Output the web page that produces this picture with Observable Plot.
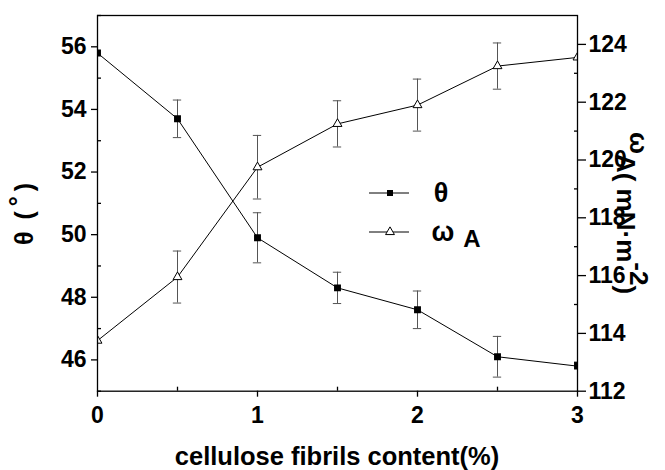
<!DOCTYPE html>
<html><head><meta charset="utf-8">
<script src="https://cdn.jsdelivr.net/npm/d3@7"></script>
<script src="https://cdn.jsdelivr.net/npm/@observablehq/plot@0.6"></script>
<style>body{margin:0;background:#fff} svg{font-family:"Liberation Sans",Arial,sans-serif}</style>
</head><body><div id="chart"></div>
<script>
// ---- data ----
const content = [0, 0.5, 1, 1.5, 2, 2.5, 3];
const theta = [55.8, 53.7, 49.9, 48.3, 47.6, 46.1, 45.8];
const thetaErr = [0, 0.6, 0.8, 0.5, 0.6, 0.65, 0];
const omegaA = [113.75, 115.95, 119.75, 121.25, 121.9, 123.25, 123.55];
const omegaErr = [0, 0.9, 1.1, 0.8, 0.9, 0.8, 0];
const xTicks = [0, 1, 2, 3];
const xMinor = [0.5, 1.5, 2.5];
const leftTicks = [46, 48, 50, 52, 54, 56];
const leftMinor = [45, 47, 49, 51, 53, 55, 57];
const rightTicks = [112, 114, 116, 118, 120, 122, 124];
const rightMinor = [113, 115, 117, 119, 121, 123];
const leftDomain = [45, 57];
const rightDomain = [112, 125];

// map right-axis values into left-axis scale space
const k = (leftDomain[1] - leftDomain[0]) / (rightDomain[1] - rightDomain[0]);
const toLeft = v => leftDomain[0] + (v - rightDomain[0]) * k;
const fromLeft = v => rightDomain[0] + (v - leftDomain[0]) / k;

const thetaData = content.map((x, i) => ({x, y: theta[i], e: thetaErr[i]}));
const omegaData = content.map((x, i) => ({x, y: toLeft(omegaA[i]), e: omegaErr[i] * k}));
const cap = 0.026;
const errMarks = (data) => {
  const d = data.filter(p => p.e > 0);
  return [
    Plot.ruleX(d, {x: "x", y1: p => p.y - p.e, y2: p => p.y + p.e, stroke: "#555", strokeWidth: 1}),
    Plot.ruleY(d, {x1: p => p.x - cap, x2: p => p.x + cap, y: p => p.y + p.e, stroke: "#555", strokeWidth: 1}),
    Plot.ruleY(d, {x1: p => p.x - cap, x2: p => p.x + cap, y: p => p.y - p.e, stroke: "#555", strokeWidth: 1})
  ];
};
const font = {fontSize: 23, fontWeight: "bold", fill: "black"};

const chart = Plot.plot({
  width: 665, height: 470,
  marginLeft: 97, marginRight: 88, marginTop: 15, marginBottom: 79.3,
  style: {fontFamily: "Liberation Sans, Arial, sans-serif", background: "white", color: "black"},
  x: {domain: [0, 3]},
  y: {domain: leftDomain},
  marks: [
    ...errMarks(thetaData),
    ...errMarks(omegaData),
    Plot.line(thetaData, {x: "x", y: "y", stroke: "black", strokeWidth: 1}),
    Plot.line(omegaData, {x: "x", y: "y", stroke: "black", strokeWidth: 1}),
    Plot.dot(thetaData, {x: "x", y: "y", symbol: "square", fill: "black", r: 3.9, clip: "frame"}),
    Plot.dot(omegaData, {x: "x", y: "y", symbol: "triangle", fill: "white", stroke: "black", strokeWidth: 1, r: 3.3, clip: "frame"}),
    Plot.frame({stroke: "black", strokeWidth: 1.3}),
    Plot.axisX(xTicks, {tickSize: 6, tickPadding: 9, strokeWidth: 1.3, label: null, tickFormat: d => String(d), ...font}),
    Plot.axisX(xMinor, {tickSize: -4, tickFormat: () => "", strokeWidth: 1.3, label: null}),
    Plot.axisY(leftTicks, {anchor: "left", tickSize: 6, tickPadding: 5, strokeWidth: 1.3, label: null, ...font}),
    Plot.axisY(leftMinor, {anchor: "left", tickSize: -4, tickFormat: () => "", strokeWidth: 1.3, label: null}),
    Plot.axisY(rightTicks.map(toLeft), {anchor: "right", tickSize: 8, tickPadding: 3, strokeWidth: 1.3, label: null,
      tickFormat: d => String(Math.round(fromLeft(d))), ...font}),
    Plot.axisY(rightMinor.map(toLeft), {anchor: "right", tickSize: -4, tickFormat: () => "", strokeWidth: 1.3, label: null})
  ]
});
document.getElementById("chart").appendChild(chart);

// ---- titles & legend ----
const svg = d3.select(chart);
const ff = "Liberation Sans, Arial, sans-serif";
svg.append("text").attr("x", 337).attr("y", 465).attr("text-anchor", "middle")
  .attr("font-family", ff).attr("font-size", 25.5).attr("font-weight", "bold")
  .text("cellulose fibrils content(%)");

const lt = svg.append("text").attr("transform", "translate(33,214) rotate(-90)").attr("text-anchor", "middle")
  .attr("font-family", ff).attr("font-size", 25).attr("font-weight", "bold");
lt.append("tspan").text("θ\u2009 (\u2009");
lt.append("tspan").attr("dy", -6).text("°");
lt.append("tspan").attr("dy", 6).text("\u2009)");

const rt = svg.append("text").attr("transform", "translate(617,213) rotate(90)").attr("text-anchor", "middle")
  .attr("font-family", ff).attr("font-size", 26).attr("font-weight", "bold");
rt.append("tspan").attr("dy", -13).text("ω");
rt.append("tspan").attr("dy", 13).text("A( mN·m");
rt.append("tspan").attr("dy", -13).text("-2");
rt.append("tspan").attr("dy", 13).text(")");

const leg = svg.append("g").attr("font-family", ff).attr("font-weight", "bold").attr("font-size", 27);
const rows = [
  {y: 193, label: "θ", sym: "square", lx: 441},
  {y: 232, label: "ω", sym: "triangle", lx: 443}
];
rows.forEach(r => {
  leg.append("line").attr("x1", 369).attr("x2", 409).attr("y1", r.y).attr("y2", r.y).attr("stroke", "black");
  if (r.sym === "square") {
    leg.append("rect").attr("x", 387).attr("y", r.y - 3).attr("width", 6).attr("height", 6).attr("fill", "black");
  } else {
    leg.append("path").attr("d", d3.symbol(d3.symbolTriangle, Math.PI * 3.3 * 3.3)()).attr("transform", `translate(390,${r.y})`)
      .attr("fill", "white").attr("stroke", "black");
  }
  leg.append("text").attr("x", r.lx).attr("y", r.y + 9).text(r.label);
});
leg.append("text").attr("x", 472).attr("y", 247).attr("font-size", 24).text("A");
</script>
</body></html>
